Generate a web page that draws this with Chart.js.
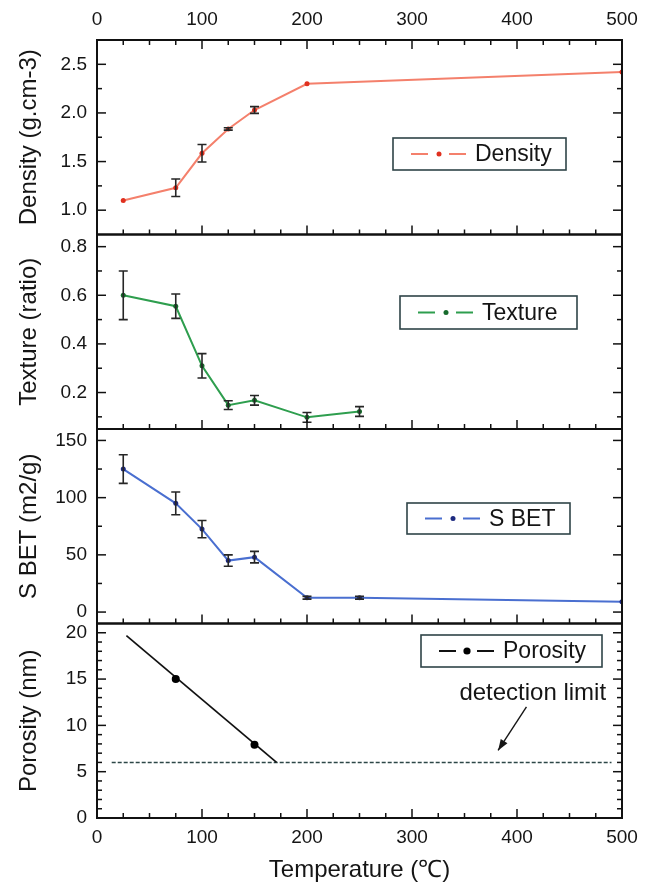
<!DOCTYPE html>
<html><head><meta charset="utf-8">
<script src="https://cdn.jsdelivr.net/npm/chart.js@4.4.1/dist/chart.umd.min.js"></script>
<style>html,body{margin:0;padding:0;background:#fff;}#wrap{width:657px;height:891px;}</style>
</head><body><div id="wrap"><canvas id="c" width="657" height="891"></canvas></div>
<script>
const FONT = "'Liberation Sans', Arial, Helvetica, sans-serif";
const xTicks = [0, 100, 200, 300, 400, 500];

const densityT = [25, 75, 100, 125, 150, 200, 500];
const densityV = [1.10, 1.23, 1.585, 1.835, 2.03, 2.30, 2.42];
const densityE = [0, 0.09, 0.09, 0.012, 0.035, 0, 0];

const textureT = [25, 75, 100, 125, 150, 200, 250];
const textureV = [0.60, 0.555, 0.31, 0.148, 0.168, 0.098, 0.122];
const textureE = [0.10, 0.05, 0.05, 0.018, 0.02, 0.02, 0.02];

const sbetT = [25, 75, 100, 125, 150, 200, 250, 500];
const sbetV = [125, 95, 72.5, 45, 48, 12.5, 12.5, 9];
const sbetE = [12.5, 10, 7.5, 5, 5, 1.2, 1.2, 0];

const poroT = [75, 150];
const poroV = [15, 7.9];
const poroFitT = [28, 171];
const poroFitV = [19.7, 6];
const limitT = [14, 490];
const limitV = [6, 6];

const densityTicks = [1.0, 1.5, 2.0, 2.5];
const textureTicks = [0.2, 0.4, 0.6, 0.8];
const sbetTicks = [0, 50, 100, 150];
const poroTicks = [0, 5, 10, 15, 20];

const pts = (xs, ys) => xs.map((x, i) => ({x: x, y: ys[i]}));

function yScale(min, max, ticks, dec, title, weight) {
  return {
    type: 'linear', position: 'left', stack: 'panels', stackWeight: 1, weight: weight,
    min: min, max: max,
    afterFit: s => { s.width = 97; },
    afterBuildTicks: s => { s.ticks = ticks.map(v => ({value: v})); },
    grid: {display: false, drawTicks: false}, border: {display: false},
    ticks: {font: {family: FONT, size: 19}, color: '#151515', padding: 10,
            callback: v => Number(v).toFixed(dec)},
    title: {display: true, text: title, font: {family: FONT, size: 24}, color: '#151515',
            padding: {top: 14.5, bottom: 0}}
  };
}

const panels = [
  {id: 'yD', ticks: densityTicks, minor: 0.25, topTicks: true},
  {id: 'yT', ticks: textureTicks, minor: 0.1, topTicks: false},
  {id: 'yS', ticks: sbetTicks, minor: 25, topTicks: false},
  {id: 'yP', ticks: poroTicks, minor: 1, topTicks: false}
];

const legendBoxes = [
  {ds: 0, rect: [393, 138, 566, 170], text: 'Density', line: '#f4806c', dot: '#e0301f', r: 2.5},
  {ds: 1, rect: [400, 296, 577, 329], text: 'Texture', line: '#2e9e4e', dot: '#176b2c', r: 2.5},
  {ds: 2, rect: [407, 503, 570, 534], text: 'S BET', line: '#4a6fd0', dot: '#1d2a80', r: 2.5},
  {ds: 3, rect: [421, 635, 602, 667], text: 'Porosity', line: '#111111', dot: '#000000', r: 3.6}
];

const errorPlugin = {
  id: 'errs',
  afterDatasetsDraw(chart) {
    const ctx = chart.ctx;
    ctx.save();
    ctx.strokeStyle = '#262626';
    ctx.lineWidth = 1.6;
    chart.data.datasets.forEach((ds, di) => {
      if (!ds.errors) return;
      const meta = chart.getDatasetMeta(di);
      const ys = chart.scales[ds.yAxisID];
      ds.data.forEach((p, i) => {
        const e = ds.errors[i];
        if (!e) return;
        const px = meta.data[i].x;
        const y1 = ys.getPixelForValue(p.y + e), y2 = ys.getPixelForValue(p.y - e);
        ctx.beginPath();
        ctx.moveTo(px, y1); ctx.lineTo(px, y2);
        ctx.moveTo(px - 4.5, y1); ctx.lineTo(px + 4.5, y1);
        ctx.moveTo(px - 4.5, y2); ctx.lineTo(px + 4.5, y2);
        ctx.stroke();
      });
    });
    ctx.restore();
  }
};

const framePlugin = {
  id: 'frames',
  afterDatasetsDraw(chart) {
    const ctx = chart.ctx, ca = chart.chartArea, xs = chart.scales.x;
    ctx.save();
    ctx.strokeStyle = '#111';
    ctx.lineWidth = 1.5;
    const seg = (a, b, c, d) => { ctx.beginPath(); ctx.moveTo(a, b); ctx.lineTo(c, d); ctx.stroke(); };
    panels.forEach(p => {
      const ys = chart.scales[p.id];
      const top = ys.top, bot = ys.bottom;
      for (let k = 0; k <= 20; k++) {
        const v = k * 25;
        const px = xs.getPixelForValue(v);
        const len = v % 100 === 0 ? 9 : 5;
        seg(px, bot, px, bot - len);
        if (p.topTicks) seg(px, top, px, top + len);
      }
      const start = Math.ceil(ys.min / p.minor - 1e-9);
      for (let k = start; k * p.minor <= ys.max + 1e-9; k++) {
        const v = k * p.minor;
        const py = ys.getPixelForValue(v);
        if (py > bot - 1 || py < top + 1) continue;
        const major = p.ticks.some(t => Math.abs(t - v) < 1e-6);
        const len = major ? 9 : 5;
        seg(ca.left, py, ca.left + len, py);
        seg(ca.right, py, ca.right - len, py);
      }
    });
    ctx.lineWidth = 2;
    panels.forEach(p => {
      const ys = chart.scales[p.id];
      ctx.strokeRect(ca.left, ys.top, ca.right - ca.left, ys.bottom - ys.top);
    });
    ctx.restore();
  }
};

const legendPlugin = {
  id: 'panelLegends',
  afterDraw(chart) {
    const ctx = chart.ctx;
    ctx.save();
    legendBoxes.forEach(L => {
      const [x0, y0, x1, y1] = L.rect;
      const cy = (y0 + y1) / 2;
      ctx.fillStyle = '#fff';
      ctx.fillRect(x0, y0, x1 - x0, y1 - y0);
      ctx.strokeStyle = '#2f4448';
      ctx.lineWidth = 1.6;
      ctx.strokeRect(x0, y0, x1 - x0, y1 - y0);
      ctx.strokeStyle = L.line;
      ctx.lineWidth = 1.9;
      ctx.beginPath();
      ctx.moveTo(x0 + 18, cy); ctx.lineTo(x0 + 35, cy);
      ctx.moveTo(x0 + 56, cy); ctx.lineTo(x0 + 73, cy);
      ctx.stroke();
      ctx.fillStyle = L.dot;
      ctx.beginPath(); ctx.arc(x0 + 46, cy, L.r, 0, Math.PI * 2); ctx.fill();
      ctx.fillStyle = '#151515';
      ctx.font = '23px ' + FONT;
      ctx.textAlign = 'left';
      ctx.textBaseline = 'middle';
      ctx.fillText(L.text, x0 + 82, cy + 1);
    });
    // detection limit annotation
    const xs = chart.scales.x, yp = chart.scales.yP;
    ctx.fillStyle = '#151515';
    ctx.font = '24px ' + FONT;
    ctx.textAlign = 'center';
    ctx.textBaseline = 'middle';
    ctx.fillText('detection limit', xs.getPixelForValue(415), yp.getPixelForValue(13.5));
    const ax0 = xs.getPixelForValue(409), ay0 = yp.getPixelForValue(12.0);
    const ax1 = xs.getPixelForValue(382), ay1 = yp.getPixelForValue(7.3);
    ctx.strokeStyle = '#151515';
    ctx.lineWidth = 1.4;
    ctx.beginPath(); ctx.moveTo(ax0, ay0); ctx.lineTo(ax1, ay1); ctx.stroke();
    const ang = Math.atan2(ay1 - ay0, ax1 - ax0);
    const hl = 11, hw = 4;
    ctx.beginPath();
    ctx.moveTo(ax1, ay1);
    ctx.lineTo(ax1 - hl * Math.cos(ang) + hw * Math.sin(ang), ay1 - hl * Math.sin(ang) - hw * Math.cos(ang));
    ctx.lineTo(ax1 - hl * Math.cos(ang) - hw * Math.sin(ang), ay1 - hl * Math.sin(ang) + hw * Math.cos(ang));
    ctx.closePath();
    ctx.fill();
    ctx.restore();
  }
};

new Chart(document.getElementById('c'), {
  type: 'scatter',
  data: {
    datasets: [
      {label: 'Density', data: pts(densityT, densityV), xAxisID: 'x', yAxisID: 'yD', showLine: true,
       borderColor: '#f4806c', borderWidth: 2, pointRadius: 2.5, pointBackgroundColor: '#e0301f',
       pointBorderWidth: 0, errors: densityE},
      {label: 'Texture', data: pts(textureT, textureV), xAxisID: 'x', yAxisID: 'yT', showLine: true,
       borderColor: '#2e9e4e', borderWidth: 2, pointRadius: 2.5, pointBackgroundColor: '#176b2c',
       pointBorderWidth: 0, errors: textureE},
      {label: 'S BET', data: pts(sbetT, sbetV), xAxisID: 'x', yAxisID: 'yS', showLine: true,
       borderColor: '#4a6fd0', borderWidth: 2, pointRadius: 2.5, pointBackgroundColor: '#1d2a80',
       pointBorderWidth: 0, errors: sbetE},
      {label: 'Porosity', data: pts(poroT, poroV), xAxisID: 'x', yAxisID: 'yP', showLine: false,
       pointRadius: 4, pointBackgroundColor: '#000', pointBorderWidth: 0},
      {label: 'Porosity fit', data: pts(poroFitT, poroFitV), xAxisID: 'x', yAxisID: 'yP', showLine: true,
       borderColor: '#111', borderWidth: 1.7, pointRadius: 0},
      {label: 'detection limit', data: pts(limitT, limitV), xAxisID: 'x', yAxisID: 'yP', showLine: true,
       borderColor: '#2d4747', borderWidth: 1.4, borderDash: [4, 2], pointRadius: 0}
    ]
  },
  options: {
    responsive: false, animation: false, devicePixelRatio: 1,
    layout: {padding: {left: 0, right: 35, top: 0, bottom: 0}},
    plugins: {legend: {display: false}, tooltip: {enabled: false}},
    events: [],
    scales: {
      x: {
        type: 'linear', position: 'bottom', min: 0, max: 500,
        afterFit: s => { s.height = 73; },
        afterBuildTicks: s => { s.ticks = xTicks.map(v => ({value: v})); },
        grid: {display: false, drawTicks: false}, border: {display: false},
        ticks: {font: {family: FONT, size: 19}, color: '#151515', padding: 8.5, maxRotation: 0},
        title: {display: true, text: 'Temperature (\u2103)', font: {family: FONT, size: 24}, color: '#151515',
                padding: {top: 0, bottom: 6.6}}
      },
      x2: {
        type: 'linear', position: 'top', min: 0, max: 500,
        afterFit: s => { s.height = 40; },
        afterBuildTicks: s => { s.ticks = xTicks.map(v => ({value: v})); },
        grid: {display: false, drawTicks: false}, border: {display: false},
        ticks: {font: {family: FONT, size: 19}, color: '#151515', padding: 9, maxRotation: 0}
      },
      yD: yScale(0.75, 2.75, densityTicks, 1, 'Density (g.cm-3)', 4),
      yT: yScale(0.05, 0.85, textureTicks, 1, 'Texture (ratio)', 3),
      yS: yScale(-10, 160, sbetTicks, 0, 'S BET (m2/g)', 2),
      yP: yScale(0, 21, poroTicks, 0, 'Porosity (nm)', 1)
    }
  },
  plugins: [errorPlugin, framePlugin, legendPlugin]
});
</script>
</body></html>
